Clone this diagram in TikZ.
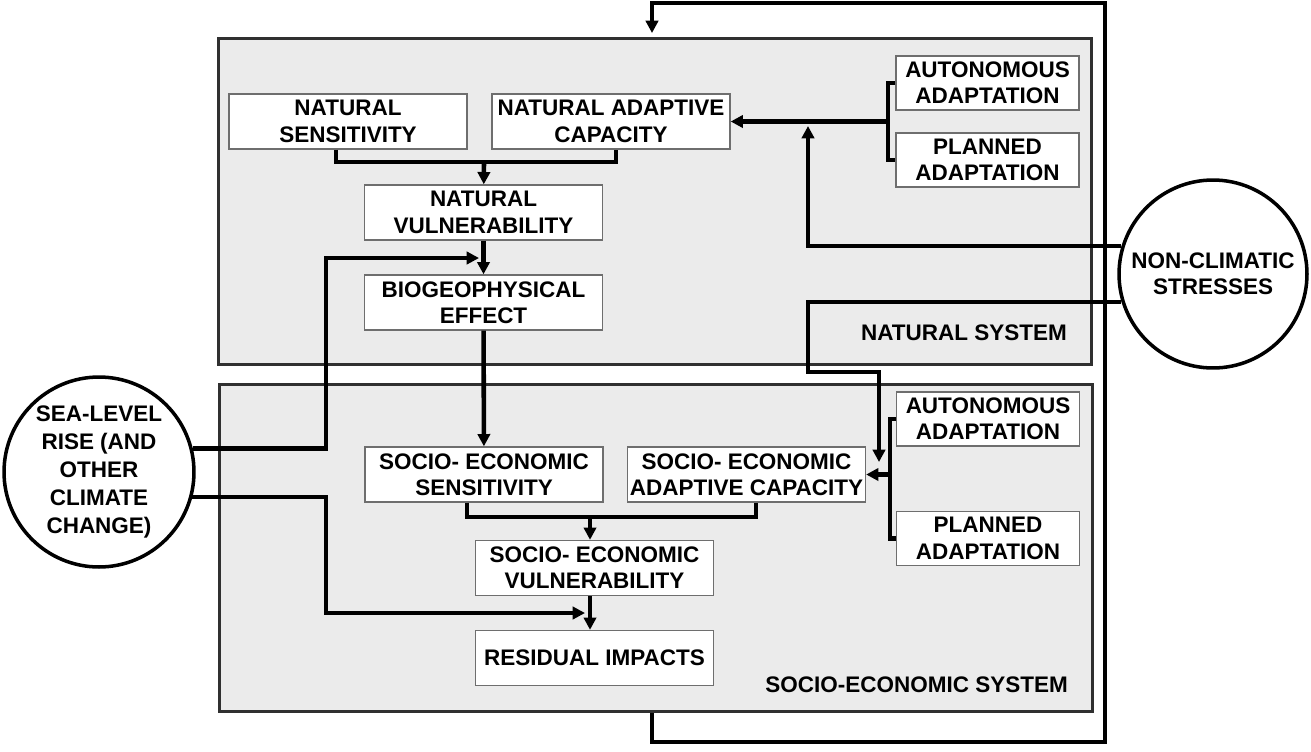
\documentclass[tikz,border=0pt]{standalone}
\usepackage{fontspec}
\setmainfont{Liberation Sans}
\usepackage{tikz}
\usetikzlibrary{arrows.meta}
\definecolor{sysgray}{HTML}{EBEBEB}
\definecolor{sysedge}{HTML}{303030}
\definecolor{boxedge}{HTML}{6E6E6E}

\begin{document}
\begin{tikzpicture}[x=0.02cm,y=-0.02cm,
    font=\bfseries\fontsize{12.8}{15}\selectfont,
    sysbox/.style={draw=sysedge,fill=sysgray,line width=1.7pt,minimum width=17.48cm},
    item/.style={draw=boxedge,fill=white,line width=0.8pt,align=center,inner sep=0pt,minimum width=4.76cm,minimum height=1.1cm},
    adapt/.style={item,minimum width=3.66cm,minimum height=1.08cm},
    driver/.style={circle,draw,line width=2pt,align=center,inner sep=0pt,minimum size=3.8cm,fill=white},
    flow/.style={line width=2.6pt},
    push/.style={flow,-{Triangle[length=7pt,width=7pt]}}]
  \useasboundingbox (0,0) rectangle (1311,751);
  \node[sysbox,minimum height=6.54cm] (natsys) at (655,201.5) {};
  \node[sysbox,minimum height=6.56cm] (socsys) at (656,548) {};
  \node[anchor=east] (natlbl) at (1073,333) {NATURAL SYSTEM};
  \node[anchor=east] (soclbl) at (1074,685) {SOCIO-ECONOMIC SYSTEM};

  \node[item] (ns) at (348,121.5) {NATURAL\\SENSITIVITY};
  \node[item] (nac) at (611,121.5) {NATURAL ADAPTIVE\\CAPACITY};
  \node[item] (nv) at (483.5,212.5) {NATURAL\\VULNERABILITY};
  \node[item] (be) at (483.5,302.5) {BIOGEOPHYSICAL\\EFFECT};
  \node[adapt] (aut1) at (987.5,83) {AUTONOMOUS\\ADAPTATION};
  \node[adapt] (plan1) at (987.5,160) {PLANNED\\ADAPTATION};
  \node[item] (ses) at (484,474.5) {SOCIO- ECONOMIC\\SENSITIVITY};
  \node[item] (seac) at (746.5,474.5) {SOCIO- ECONOMIC\\ADAPTIVE CAPACITY};
  \node[item] (sev) at (594.5,568) {SOCIO- ECONOMIC\\VULNERABILITY};
  \node[item] (ri) at (594.5,658) {RESIDUAL IMPACTS};
  \node[adapt] (aut2) at (988,419) {AUTONOMOUS\\ADAPTATION};
  \node[adapt] (plan2) at (988,538.5) {PLANNED\\ADAPTATION};
  \node[driver,font=\bfseries\fontsize{12.8}{16}\selectfont] (slr) at (99,472) {SEA-LEVEL\\RISE (AND\\OTHER\\CLIMATE\\CHANGE)};
  \node[driver,minimum size=3.76cm] (ncs) at (1213,274) {NON-CLIMATIC\\STRESSES};

  \coordinate (fbx) at (652,0);
  \coordinate (loopbot) at (1105,742);
  \coordinate (looptop) at (1105,3);
  \coordinate (j1) at (484,162);
  \coordinate (j2) at (590,517);
  \coordinate (b1) at (888,121.5);
  \coordinate (b2) at (890,474.5);
  \coordinate (ncup) at (808,126);
  \coordinate (ncbend) at (808,372);
  \coordinate (ncdown) at (879,462);
  \coordinate (slrup) at (326,258);
  \coordinate (slrupend) at (479,258);
  \coordinate (slrdn) at (326,613);
  \coordinate (slrdnend) at (585,613);

  \draw[push,shorten >=2pt] (socsys.south -| fbx) |- (loopbot) -- (looptop) -| (natsys.north -| fbx);
  \draw[flow] ([xshift=-0.24cm]ns.south) |- (j1) -| ([xshift=0.1cm]nac.south);
  \draw[push] (j1) -- (nv);
  \draw[push] (nv) -- (be);
  \draw[push] (be) -- (ses);
  \draw[flow] ([xshift=-0.34cm]ses.south) |- (j2) -| ([xshift=0.19cm]seac.south);
  \draw[push] (j2) -- (j2 |- sev.north);
  \draw[push] (sev.south -| j2) -- (ri.north -| j2);
  \draw[flow] (aut1.west) -| (b1) |- (plan1.west);
  \draw[push] (b1) -- (nac.east);
  \draw[flow] (aut2.west) -| (b2) |- (plan2.west);
  \draw[push] (b2) -- (seac.east);
  \draw[push] (ncs.163) -| (ncup);
  \draw[push] (ncs.197) -| (ncbend) -| (ncdown);
  \draw[push] (slr.14) -| (slrup) -- (slrupend);
  \draw[push] (slr.-15) -| (slrdn) -- (slrdnend);
\end{tikzpicture}
\end{document}
